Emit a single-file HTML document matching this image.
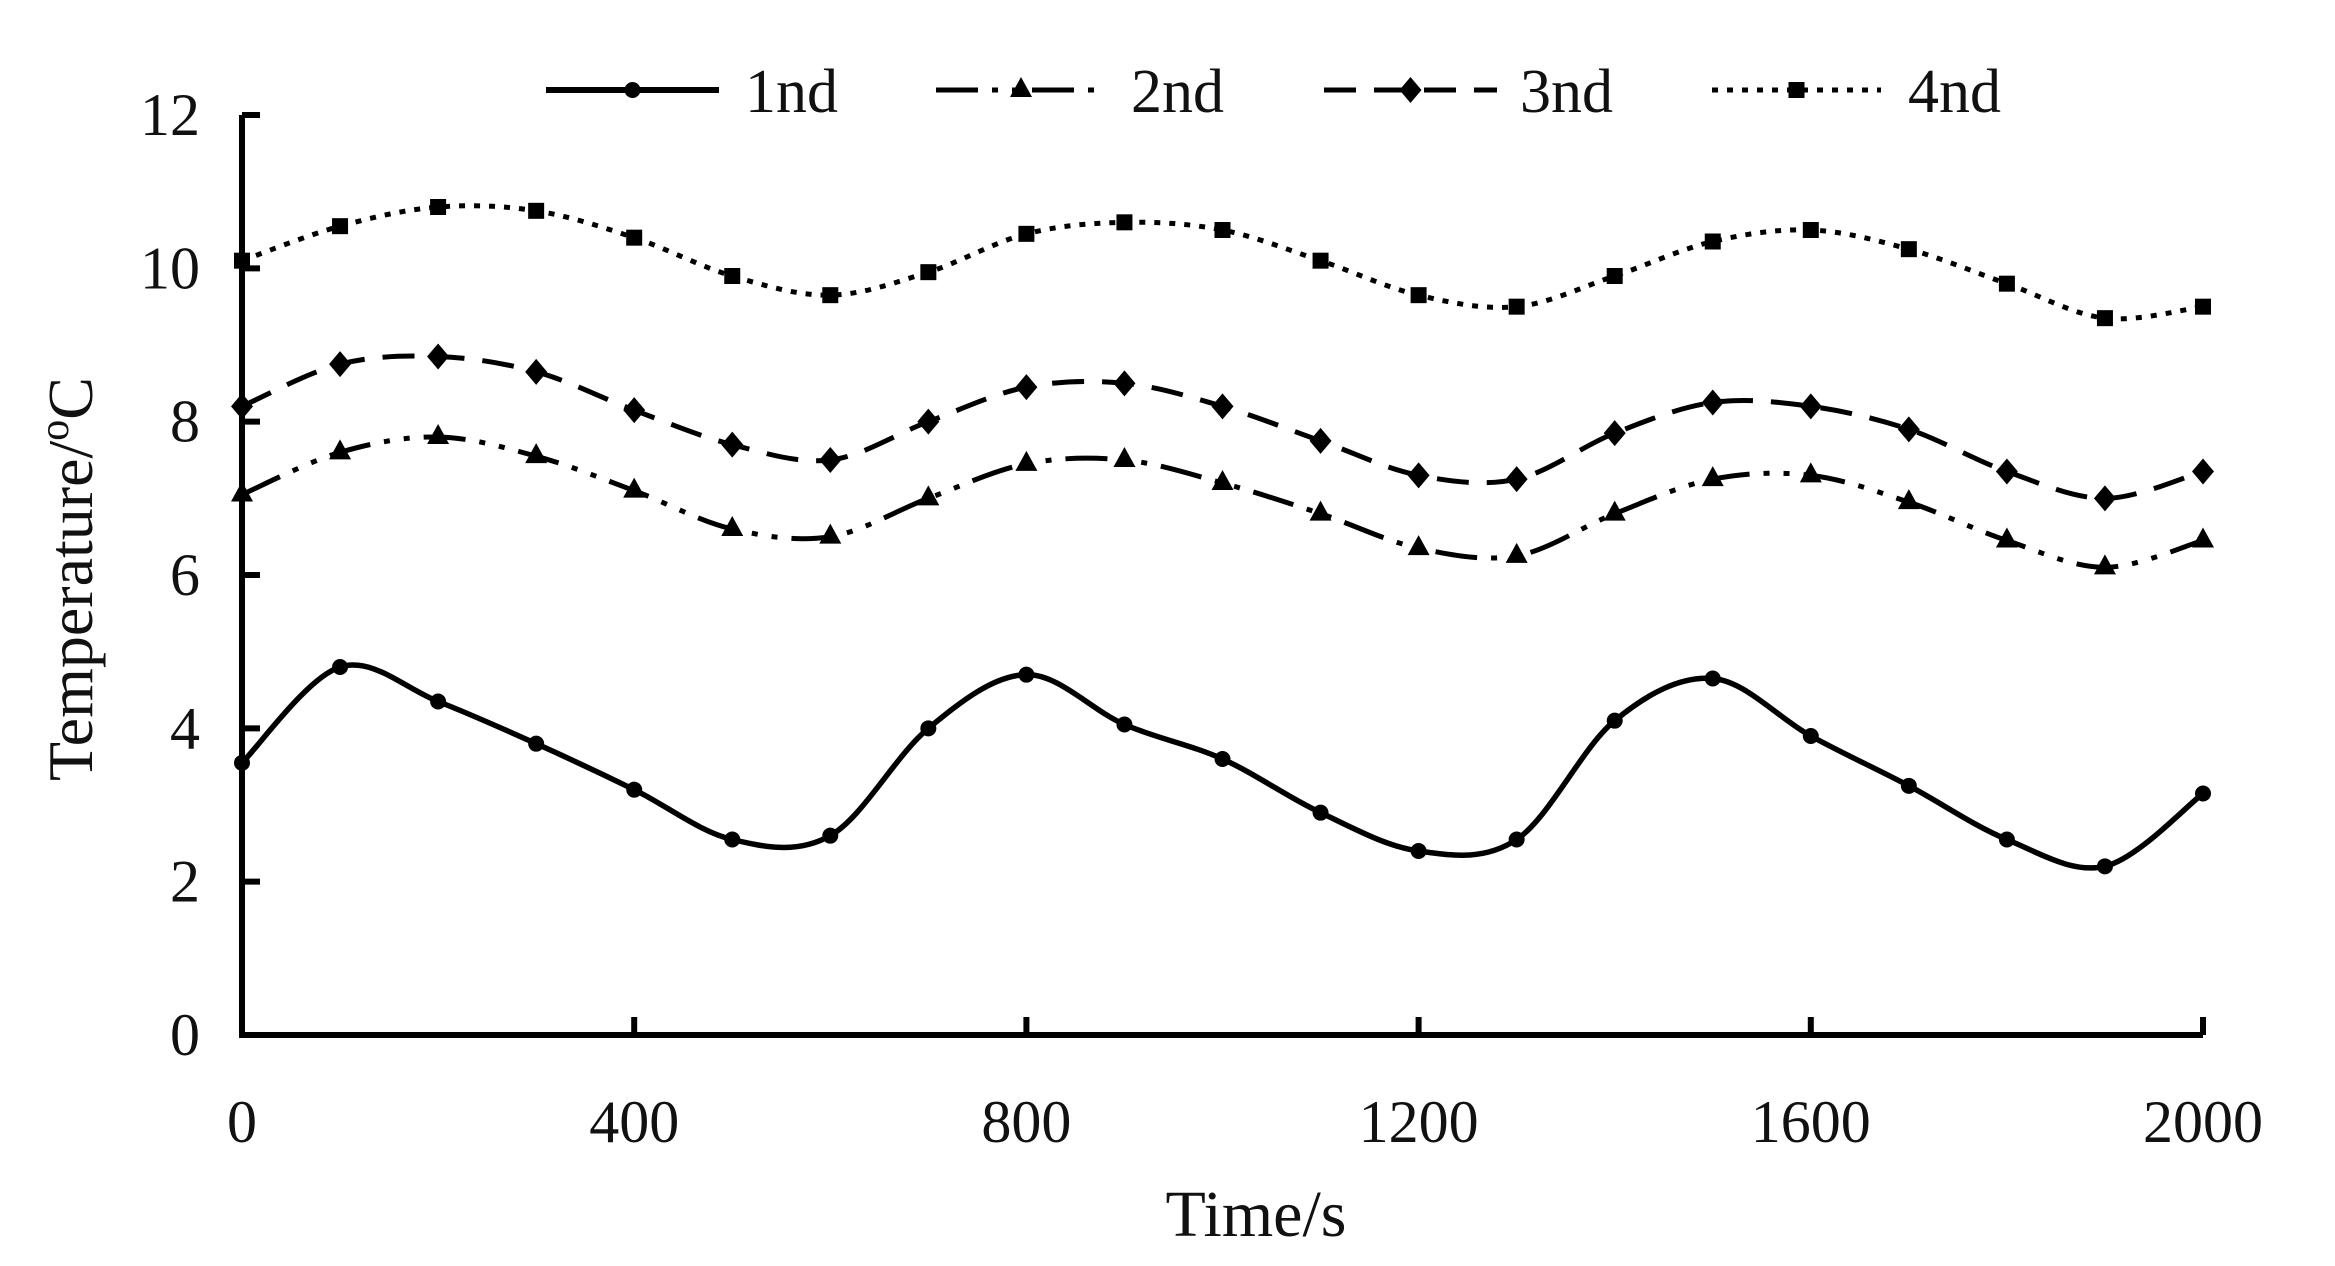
<!DOCTYPE html>
<html><head><meta charset="utf-8"><style>
html,body{margin:0;padding:0;background:#fff;}
svg{display:block;}
text{font-family:"Liberation Serif",serif;fill:#111;}
</style></head><body>
<svg id="s" width="2335" height="1266" viewBox="0 0 2335 1266" xmlns="http://www.w3.org/2000/svg">
<g id="ax" stroke="#000" stroke-width="6" fill="none">
<path d="M242,115 V1035 H2203"/>
</g>
<g id="lbl" font-size="60"></g>
<text x="1256" y="1236" font-size="66" text-anchor="middle">Time/s</text>
<text transform="translate(92,579) rotate(-90)" font-size="64" text-anchor="middle">Temperature/<tspan font-size="42" dy="-24">o</tspan><tspan dy="24">C</tspan></text>
<g id="ser"></g>
<g id="leg" font-size="62"></g>
</svg>
<script>
var NS="http://www.w3.org/2000/svg",s=document.getElementById('s');
function el(p,t,a,txt){var e=document.createElementNS(NS,t);for(var k in a)e.setAttribute(k,a[k]);if(txt!=null)e.textContent=txt;p.appendChild(e);return e;}
var X=function(v){return 242+v*(2203-242)/2000},Y=function(v){return 1035-v*(920/12)};
var ax=document.getElementById('ax'),lbl=document.getElementById('lbl');
for(var i=0;i<=12;i+=2){el(ax,'path',{d:'M242,'+Y(i)+' h18'});el(lbl,'text',{x:200,y:Y(i)+20,'text-anchor':'end'},i);}
for(var i=0;i<=2000;i+=400){el(ax,'path',{d:'M'+X(i)+',1035 v-18'});el(lbl,'text',{x:X(i),y:1142,'text-anchor':'middle'},i);}
var D=[
[3.55,4.8,4.35,3.8,3.2,2.55,2.6,4.0,4.7,4.05,3.6,2.9,2.4,2.55,4.1,4.65,3.9,3.25,2.55,2.2,3.15],
[7.05,7.6,7.8,7.55,7.1,6.6,6.5,7.0,7.45,7.5,7.2,6.8,6.35,6.25,6.8,7.25,7.3,6.95,6.45,6.1,6.45],
[8.2,8.75,8.85,8.65,8.15,7.7,7.5,8.0,8.45,8.5,8.2,7.75,7.3,7.25,7.85,8.25,8.2,7.9,7.35,7.0,7.35],
[10.1,10.55,10.8,10.75,10.4,9.9,9.65,9.95,10.45,10.6,10.5,10.1,9.65,9.5,9.9,10.35,10.5,10.25,9.8,9.35,9.5]];
var dash=['none','42 14 6 14 6 14','32 18','6 9'];
function mk(g,k,x,y){
 if(k==0)el(g,'circle',{cx:x,cy:y,r:8,fill:'#000'});
 else if(k==1)el(g,'path',{d:'M'+x+','+(y-13)+' l11,20 h-22z',fill:'#000'});
 else if(k==2)el(g,'path',{d:'M'+x+','+(y-13)+' l11,13 l-11,13 l-11,-13z',fill:'#000'});
 else el(g,'rect',{x:x-8,y:y-8,width:16,height:16,fill:'#000'});
}
var ser=document.getElementById('ser');
D.forEach(function(d,k){
 var P=d.map(function(v,i){return [X(i*100),Y(v)]});
 var s2='M'+P[0][0]+','+P[0][1];
 for(var i=0;i<P.length-1;i++){
  var p0=P[Math.max(0,i-1)],p1=P[i],p2=P[i+1],p3=P[Math.min(P.length-1,i+2)];
  var c1=[p1[0]+(p2[0]-p0[0])/6,p1[1]+(p2[1]-p0[1])/6],c2=[p2[0]-(p3[0]-p1[0])/6,p2[1]-(p3[1]-p1[1])/6];
  s2+=' C'+c1+' '+c2+' '+p2;
 }
 var a={d:s2,fill:'none',stroke:'#000','stroke-width':k==0?5.5:5};
 if(dash[k]!='none')a['stroke-dasharray']=dash[k];
 el(ser,'path',a);
 P.forEach(function(p){mk(ser,k,p[0],p[1])});
});
var leg=document.getElementById('leg');
var L=[[546,719,745,'1nd'],[936,1106,1131,'2nd'],[1324,1497,1520,'3nd'],[1712,1881,1908,'4nd']];
L.forEach(function(l,k){
 var a={d:'M'+l[0]+',90 H'+l[1],stroke:'#000','stroke-width':k==0?6:5,fill:'none'};
 if(dash[k]!='none')a['stroke-dasharray']=dash[k];
 el(leg,'path',a);mk(leg,k,(l[0]+l[1])/2,90);
 el(leg,'text',{x:l[2],y:112},l[3]);
});
</script>
</body></html>
